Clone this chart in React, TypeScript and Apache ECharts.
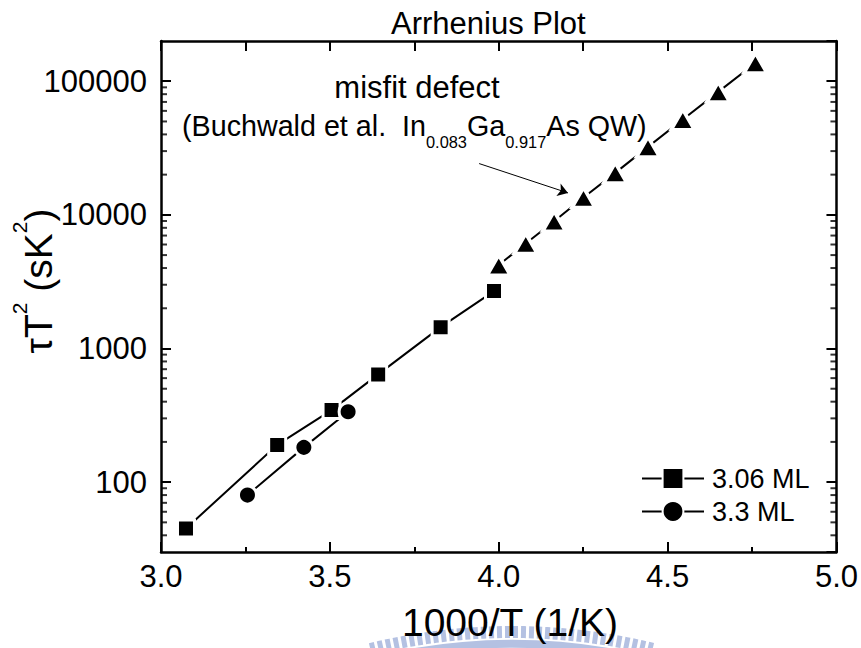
import React, { useEffect, useRef } from "react";
import * as echarts from "echarts";

const FONT = '"Liberation Sans", Arial, Helvetica, sans-serif';

// axis ranges
const xMin = 3.0;
const xMax = 5.0;
const yMin = 30;
const yMax = 200000;
const yLabelValues = [100, 1000, 10000, 100000];
const minorTickValues = [
  40, 50, 60, 70, 80, 90,
  200, 300, 400, 500, 600, 700, 800, 900,
  2000, 3000, 4000, 5000, 6000, 7000, 8000, 9000,
  20000, 30000, 40000, 50000, 60000, 70000, 80000, 90000,
];

// series names
const seriesNames = ["3.06 ML", "3.3 ML"];

// 3.06 ML (squares)
const ml306X = [3.074, 3.344, 3.505, 3.643, 3.828, 3.986];
const ml306Y = [45, 190, 346, 640, 1445, 2690];

// 3.3 ML (circles)
const ml33X = [3.256, 3.423, 3.554];
const ml33Y = [80, 182, 336];

// misfit defect (Buchwald et al.) triangles
const misfitX = [4.0, 4.08, 4.164, 4.251, 4.345, 4.442, 4.545, 4.65, 4.76];
const misfitY = [4210, 6110, 8970, 13490, 20610, 32260, 51700, 83200, 137000];

// annotation arrow (data coords)
const arrowX = [3.942, 4.205];
const arrowY = [24200, 14600];

const zip = (xs: number[], ys: number[]) => xs.map((x, i) => [x, ys[i]]);

export default function App() {
  const ref = useRef<HTMLDivElement>(null);

  useEffect(() => {
    const chart = echarts.init(ref.current!, null, { renderer: "svg" });

    const axisLineStyle = () => ({ color: "#000", width: 2.5 });
    const tickStyle = () => ({ color: "#000", width: 2 });

    // log-axis minor ticks (2..9 x 10^n) drawn as thin marks at the frame edges
    const minorTickSeries = (xv: number, offset: number) => ({
      type: "scatter",
      xAxisIndex: 0,
      yAxisIndex: 0,
      silent: true,
      clip: false,
      z: 5,
      symbol: "rect",
      symbolSize: [6, 2],
      symbolOffset: [offset, 0],
      itemStyle: { color: "#000" },
      emphasis: { disabled: true },
      data: minorTickValues.map((v) => [xv, v]),
    });

    const option: any = {
      animation: false,
      backgroundColor: "#fff",
      textStyle: { fontFamily: FONT, color: "#000" },
      title: {
        text: "Arrhenius Plot",
        left: 391,
        top: 8,
        padding: 0,
        textStyle: { fontSize: 31, fontWeight: "normal", color: "#000", fontFamily: FONT },
      },
      grid: { left: 161, right: 24, top: 41, bottom: 96, containLabel: false },
      legend: {
        data: seriesNames,
        orient: "vertical",
        left: 641,
        top: 465,
        padding: 0,
        itemWidth: 62,
        itemHeight: 26,
        itemGap: 6,
        selectedMode: false,
        textStyle: { fontSize: 27, color: "#000", fontFamily: FONT, padding: [0, 0, 0, 3] },
      },
      xAxis: [
        {
          type: "value",
          position: "bottom",
          min: xMin,
          max: xMax,
          interval: 0.5,
          axisLine: { show: true, onZero: false, lineStyle: axisLineStyle() },
          axisTick: { show: true, inside: true, length: 10, lineStyle: tickStyle() },
          minorTick: { show: true, splitNumber: 2, length: 5, lineStyle: tickStyle() },
          splitLine: { show: false },
          axisLabel: {
            fontSize: 31,
            color: "#000",
            fontFamily: FONT,
            margin: 9,
            formatter: (v: number) => v.toFixed(1),
          },
        },
        {
          type: "value",
          position: "top",
          min: xMin,
          max: xMax,
          interval: 0.25,
          axisLine: { show: true, onZero: false, lineStyle: axisLineStyle() },
          axisTick: { show: true, inside: true, length: 10, lineStyle: tickStyle() },
          splitLine: { show: false },
          axisLabel: { show: false },
        },
      ],
      yAxis: [
        {
          type: "log",
          logBase: 10,
          position: "left",
          min: yMin,
          max: yMax,
          axisLine: { show: true, onZero: false, lineStyle: axisLineStyle() },
          axisTick: { show: true, inside: true, length: 10, lineStyle: tickStyle() },
          splitLine: { show: false },
          axisLabel: {
            fontSize: 31,
            color: "#000",
            fontFamily: FONT,
            margin: 14,
            showMinLabel: false,
            showMaxLabel: false,
            formatter: (v: number) => {
              const t = yLabelValues.find((u) => Math.abs(u - v) / u < 1e-6);
              return t ? String(t) : "";
            },
          },
        },
        {
          type: "log",
          logBase: 10,
          position: "right",
          min: yMin,
          max: yMax,
          axisLine: { show: true, onZero: false, lineStyle: axisLineStyle() },
          axisTick: { show: true, inside: true, length: 10, lineStyle: tickStyle() },
          splitLine: { show: false },
          axisLabel: { show: false },
        },
      ],
      graphic: [
        {
          type: "arc",
          z: -10,
          silent: true,
          shape: { cx: 512, cy: 1228, r: 596, startAngle: -Math.PI / 2 - 0.24, endAngle: -Math.PI / 2 + 0.24 },
          style: { stroke: "#b4c1e2", lineWidth: 12, lineDash: [5, 3], fill: null },
        },
        {
          type: "arc",
          z: -10,
          silent: true,
          shape: { cx: 512, cy: 1228, r: 584, startAngle: -Math.PI / 2 - 0.24, endAngle: -Math.PI / 2 + 0.24 },
          style: { stroke: "#b4c1e2", lineWidth: 8, fill: null },
        },
        {
          type: "text",
          x: 510,
          y: 622,
          style: {
            text: "1000/T (1/K)",
            fontSize: 39,
            fontFamily: FONT,
            fill: "#000",
            align: "center",
            verticalAlign: "middle",
          },
        },
        {
          type: "text",
          x: 38,
          y: 281,
          rotation: Math.PI / 2,
          style: {
            text: "{n|τT}{p|2}{n| (sK}{p|2}{n|)}",
            align: "center",
            verticalAlign: "middle",
            fill: "#000",
            rich: {
              n: { fontSize: 39, fontFamily: FONT, lineHeight: 50, fill: "#000" },
              p: { fontSize: 21, fontFamily: FONT, lineHeight: 50, padding: [0, 0, 38, 0], fill: "#000" },
            },
          },
        },
        {
          type: "text",
          x: 417,
          y: 87,
          style: {
            text: "misfit defect",
            fontSize: 31,
            fontFamily: FONT,
            fill: "#000",
            align: "center",
            verticalAlign: "middle",
          },
        },
        {
          type: "text",
          x: 182,
          y: 106,
          style: {
            text: "{n|(Buchwald et al.  In}{s|0.083}{n|Ga}{s|0.917}{n|As QW)}",
            align: "left",
            verticalAlign: "top",
            fill: "#000",
            rich: {
              n: { fontSize: 28.7, fontFamily: FONT, lineHeight: 40, fill: "#000" },
              s: { fontSize: 16.4, fontFamily: FONT, lineHeight: 40, padding: [32, 0, 0, 0], fill: "#000" },
            },
          },
        },
      ],
      series: [
        {
          name: seriesNames[0],
          type: "line",
          xAxisIndex: 0,
          yAxisIndex: 0,
          data: zip(ml306X, ml306Y),
          symbol: "rect",
          symbolSize: 17,
          z: 3,
          lineStyle: { color: "#000", width: 2 },
          itemStyle: { color: "#000", borderColor: "#fff", borderWidth: 3 },
          emphasis: { disabled: true },
        },
        {
          name: seriesNames[1],
          type: "line",
          xAxisIndex: 0,
          yAxisIndex: 0,
          data: zip(ml33X, ml33Y),
          symbol: "circle",
          symbolSize: 18,
          z: 3,
          lineStyle: { color: "#000", width: 2 },
          itemStyle: { color: "#000", borderColor: "#fff", borderWidth: 3 },
          emphasis: { disabled: true },
        },
        {
          name: "misfit defect",
          type: "line",
          xAxisIndex: 0,
          yAxisIndex: 0,
          data: zip(misfitX, misfitY),
          symbol: "triangle",
          symbolSize: [23, 20],
          z: 3,
          lineStyle: { color: "#000", width: 2 },
          itemStyle: { color: "#000", borderColor: "#fff", borderWidth: 3.5 },
          emphasis: { disabled: true },
          markLine: {
            silent: true,
            symbol: ["none", "arrow"],
            symbolSize: 10,
            label: { show: false },
            lineStyle: { color: "#000", width: 1, type: "solid" },
            data: [[{ coord: [arrowX[0], arrowY[0]] }, { coord: [arrowX[1], arrowY[1]] }]],
          },
        },
        minorTickSeries(xMin, 3),
        minorTickSeries(xMax, -3),
      ],
    };

    chart.setOption(option);
    return () => chart.dispose();
  }, []);

  return (
    <div
      ref={ref}
      style={{ position: "absolute", left: 0, top: 0, width: 861, height: 648, background: "#fff" }}
    />
  );
}
